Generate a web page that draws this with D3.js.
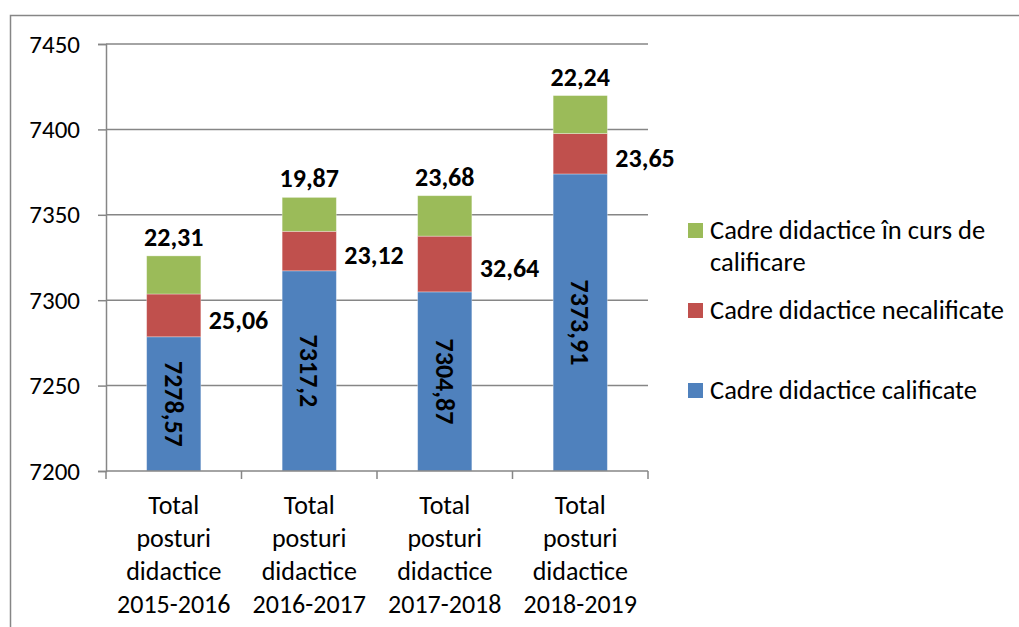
<!DOCTYPE html>
<html>
<head>
<meta charset="utf-8">
<script src="https://cdn.jsdelivr.net/npm/d3@7"></script>
<style>
  body { margin: 0; background: #fff; }
  text { font-family: Carlito, "Open Sans", "Noto Sans", sans-serif; }
</style>
</head>
<body>
<script>
// chart values
const categories = [
  ["Total", "posturi", "didactice", "2015-2016"],
  ["Total", "posturi", "didactice", "2016-2017"],
  ["Total", "posturi", "didactice", "2017-2018"],
  ["Total", "posturi", "didactice", "2018-2019"]
];
const calificate = [7278.57, 7317.2, 7304.87, 7373.91];
const necalificate = [25.06, 23.12, 32.64, 23.65];
const inCurs = [22.31, 19.87, 23.68, 22.24];
const seriesNames = ["Cadre didactice calificate", "Cadre didactice necalificate", "Cadre didactice în curs de calificare"];
const yTicks = [7200, 7250, 7300, 7350, 7400, 7450];

const W = 1019, H = 627;
const colors = ["#4F81BD", "#C0504D", "#9BBB59"];
const fmt = v => String(v).replace(".", ",");
const FS = 26;

const svg = d3.select("body").append("svg").attr("width", W).attr("height", H);

// outer chart border
svg.append("rect").attr("x", 10.5).attr("y", 15.5).attr("width", W + 20).attr("height", H + 20)
  .attr("fill", "none").attr("stroke", "#868686").attr("stroke-width", 1.5);

const pLeft = 106, pRight = 648, pTop = 44, pBottom = 471;
const x = d3.scaleBand().domain(d3.range(4)).range([pLeft, pRight]).paddingInner(0.6).paddingOuter(0.3);
const xOuter = d3.scaleBand().domain(d3.range(4)).range([pLeft, pRight]);
const y = d3.scaleLinear().domain([7200, 7450]).range([pBottom, pTop]);

// gridlines
svg.append("g").selectAll("line").data(yTicks.slice(1)).join("line")
  .attr("x1", pLeft).attr("x2", pRight).attr("y1", d => y(d)).attr("y2", d => y(d))
  .attr("stroke", "#868686").attr("stroke-width", 1.5);

// y axis
const yAxis = svg.append("g").attr("transform", `translate(${pLeft},0)`)
  .call(d3.axisLeft(y).tickValues(yTicks).tickSize(8).tickPadding(18).tickFormat(d3.format("d")));
yAxis.select(".domain").attr("stroke", "#868686").attr("stroke-width", 1.5);
yAxis.selectAll(".tick line").attr("stroke", "#868686").attr("stroke-width", 1.5);
yAxis.selectAll(".tick text").attr("font-size", 25).attr("fill", "#000")
  .style("font-family", "Carlito, 'Open Sans', sans-serif");

// stacked data
const stackData = calificate.map((v, i) => ({ i, a: v, b: necalificate[i], c: inCurs[i] }));
const stack = d3.stack().keys(["a", "b", "c"]);
const series = stack(stackData);

svg.append("g").selectAll("g").data(series).join("g")
  .attr("fill", (d, k) => colors[k])
  .selectAll("rect").data(d => d).join("rect")
  .attr("x", d => x(d.data.i)).attr("width", x.bandwidth())
  .attr("y", d => y(Math.min(d[1], 7450)))
  .attr("height", d => y(Math.max(d[0], 7200)) - y(Math.min(d[1], 7450)))
  .attr("stroke", "rgba(255,255,255,0.4)").attr("stroke-width", 0.8);

// x axis
const xAxisG = svg.append("g");
xAxisG.append("line").attr("x1", pLeft).attr("x2", pRight).attr("y1", pBottom).attr("y2", pBottom)
  .attr("stroke", "#868686").attr("stroke-width", 1.5);
xAxisG.selectAll("line.t").data(d3.range(5)).join("line").attr("class", "t")
  .attr("x1", d => pLeft + d * xOuter.step()).attr("x2", d => pLeft + d * xOuter.step())
  .attr("y1", pBottom).attr("y2", pBottom + 8)
  .attr("stroke", "#868686").attr("stroke-width", 1.5);

categories.forEach((lines, i) => {
  const cx = x(i) + x.bandwidth() / 2;
  svg.append("text").attr("x", cx).attr("y", 514).attr("text-anchor", "middle")
    .attr("font-size", FS).attr("fill", "#000")
    .selectAll("tspan").data(lines).join("tspan")
    .attr("x", cx).attr("dy", (d, k) => k === 0 ? 0 : 33).text(d => d);
});

// labels: calificate (rotated inside bar)
stackData.forEach(d => {
  const cx = x(d.i) + x.bandwidth() / 2;
  const cy = (y(7200) + y(d.a)) / 2;
  svg.append("text").attr("transform", `translate(${cx},${cy}) rotate(90)`)
    .attr("text-anchor", "middle").attr("dy", "0.35em")
    .attr("font-size", FS).attr("font-weight", "bold").text(fmt(d.a));
  // necalificate, to the right of the bar
  const cyR = (y(d.a) + y(d.a + d.b)) / 2 + 4;
  svg.append("text").attr("x", x(d.i) + x.bandwidth() + 8).attr("y", cyR)
    .attr("dy", "0.35em").attr("font-size", FS).attr("font-weight", "bold").text(fmt(d.b));
  // in curs, above the bar
  svg.append("text").attr("x", cx).attr("y", y(d.a + d.b + d.c) - 10)
    .attr("text-anchor", "middle").attr("font-size", FS).attr("font-weight", "bold").text(fmt(d.c));
});

// legend
const legend = [
  { k: 2, lines: ["Cadre didactice în curs de", "calificare"], y: 230 },
  { k: 1, lines: ["Cadre didactice necalificate"], y: 310 },
  { k: 0, lines: ["Cadre didactice calificate"], y: 390 }
];
legend.forEach(l => {
  svg.append("rect").attr("x", 688).attr("y", l.y - 7).attr("width", 15).attr("height", 15).attr("fill", colors[l.k]);
  svg.append("text").attr("x", 710).attr("y", l.y).attr("font-size", 26.5).attr("fill", "#000")
    .selectAll("tspan").data(l.lines).join("tspan")
    .attr("x", 710).attr("dy", (d, k) => k === 0 ? "0.35em" : 32).text(d => d);
});
</script>
</body>
</html>
